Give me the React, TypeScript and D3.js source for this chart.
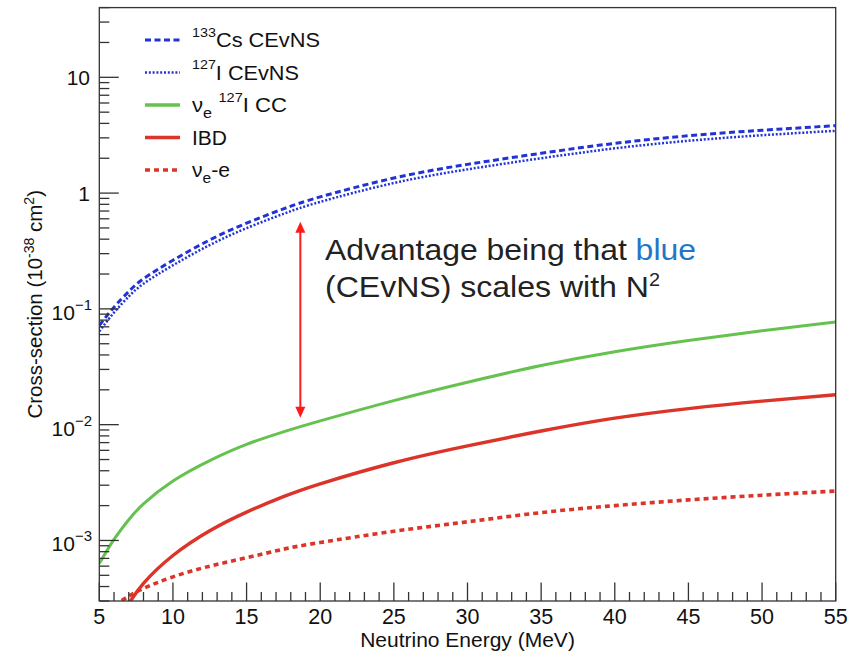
import React from 'react';
import * as d3 from 'd3';

// Neutrino energy grid (MeV)
const energy = [5, 6, 7, 8, 10, 12.5, 15, 17.5, 20, 25, 30, 35, 40, 45, 50, 55];
// Cross-sections in units of 1e-38 cm^2
const csCevns = [0.0719, 0.1035, 0.1413, 0.182, 0.263, 0.3936, 0.55, 0.731, 0.927, 1.349, 1.77, 2.208, 2.69, 3.126, 3.49, 3.82];
const iCevns = [0.064, 0.093, 0.128, 0.165, 0.238, 0.356, 0.498, 0.662, 0.84, 1.222, 1.603, 2.0, 2.435, 2.83, 3.16, 3.45];
const iCC = [6.31e-4, 1.02e-3, 1.51e-3, 2.07e-3, 3.26e-3, 4.9e-3, 6.76e-3, 8.67e-3, 0.01078, 0.01614, 0.02325, 0.0324, 0.04266, 0.05333, 0.06486, 0.0771];

const ibdEnergy = [7, 8, 10, 12.5, 15, 17.5, 20, 25, 30, 35, 40, 45, 50, 55];
const ibd = [2.83e-4, 4.26e-4, 7.41e-4, 1.213e-3, 1.758e-3, 2.388e-3, 3.083e-3, 4.69e-3, 6.56e-3, 8.81e-3, 0.01138, 0.01377, 0.01597, 0.01811];

const nueEnergy = [6, 7, 8, 10, 12.5, 15, 17.5, 20, 25, 30, 35, 40, 45, 50, 55];
const nueE = [2.75e-4, 3.3e-4, 3.85e-4, 4.85e-4, 6.0e-4, 7.1e-4, 8.4e-4, 9.6e-4, 1.2e-3, 1.45e-3, 1.74e-3, 2.0e-3, 2.24e-3, 2.46e-3, 2.67e-3];

// Axis settings
const xDomain = [5, 55];
const yDomain = [3e-4, 40];
const xMajorTicks = [5, 10, 15, 20, 25, 30, 35, 40, 45, 50, 55];
const yMajorTicks = [1e-3, 1e-2, 1e-1, 1, 10];
const yTickLabels: [string, string][] = [['10', '\u22123'], ['10', '\u22122'], ['10', '\u22121'], ['1', ''], ['10', '']];

// Double-headed arrow between the CEvNS and CC curves
const arrowEnergy = 18.65;
const arrowRange = [0.0115, 0.565];

const FONT = "'Liberation Sans', Arial, Helvetica, sans-serif";
const AXIS = '#333';
const BLUE = '#2233d6';
const GREEN = '#66c24e';
const RED = '#dc3428';

export default function App() {
  const x = d3.scaleLinear().domain(xDomain).range([99.3, 835.7]);
  const y = d3.scaleLog().domain(yDomain).range([601, 7.6]);
  const [x0, x1] = x.range();
  const [yb, yt] = y.range();

  const line = d3
    .line<[number, number]>()
    .x((d) => x(d[0]))
    .y((d) => y(d[1]))
    .curve(d3.curveNatural);

  const zip = (es: number[], vs: number[]) => es.map((e, i) => [e, vs[i]] as [number, number]);

  const series = [
    { data: zip(energy, csCevns), color: BLUE, width: 3, dash: '6,3.5' },
    { data: zip(energy, iCevns), color: BLUE, width: 2.5, dash: '2,1.8' },
    { data: zip(energy, iCC), color: GREEN, width: 3, dash: undefined },
    { data: zip(ibdEnergy, ibd), color: RED, width: 3.4, dash: undefined },
    { data: zip(nueEnergy, nueE), color: RED, width: 3.6, dash: '5,4' },
  ];

  const xMinor = d3.range(5, 56, 1).filter((v) => v % 5 !== 0);
  const yMinor: number[] = [];
  for (let p = -4; p <= 1; p++) {
    for (let k = 2; k <= 9; k++) {
      const v = k * Math.pow(10, p);
      if (v >= yDomain[0] * 0.999 && v <= yDomain[1] * 1.001) yMinor.push(v);
    }
  }

  const legendX0 = 145;
  const legendX1 = 180;
  const legendTextX = 192;
  const legendRows = [40, 72.5, 105, 137.5, 170];
  const legendLines = [
    { color: BLUE, width: 3, dash: '6,3.5' },
    { color: BLUE, width: 2.5, dash: '2,1.8' },
    { color: GREEN, width: 3.5, dash: undefined },
    { color: RED, width: 3.5, dash: undefined },
    { color: RED, width: 3.6, dash: '5,4' },
  ];

  const ax = x(arrowEnergy);
  const ayTop = y(arrowRange[1]);
  const ayBot = y(arrowRange[0]);

  return (
    <svg
      width={857}
      height={655}
      style={{ position: 'absolute', left: 0, top: 0, background: '#fff' }}
      fontFamily={FONT}
    >
      <defs>
        <clipPath id="plot-area">
          <rect x={x0} y={yt} width={x1 - x0} height={yb - yt} />
        </clipPath>
      </defs>
      <rect x={0} y={0} width={857} height={655} fill="#fff" />

      {/* curves */}
      <g clipPath="url(#plot-area)" fill="none">
        {series.map((s, i) => (
          <path
            key={i}
            d={line(s.data) || ''}
            stroke={s.color}
            strokeWidth={s.width}
            strokeDasharray={s.dash}
          />
        ))}
      </g>

      {/* frame */}
      <rect x={x0} y={yt} width={x1 - x0} height={yb - yt} fill="none" stroke={AXIS} strokeWidth={1.3} />

      {/* ticks */}
      <g stroke={AXIS} strokeWidth={1.3}>
        {xMajorTicks.map((t) => (
          <line key={'xM' + t} x1={x(t)} x2={x(t)} y1={yb} y2={yb - 18.5} />
        ))}
        {xMinor.map((t) => (
          <line key={'xm' + t} x1={x(t)} x2={x(t)} y1={yb} y2={yb - 9} />
        ))}
        {yMajorTicks.map((t) => (
          <line key={'yM' + t} x1={x0} x2={x0 + 19.5} y1={y(t)} y2={y(t)} />
        ))}
        {yMinor.map((t) => (
          <line key={'ym' + t} x1={x0} x2={x0 + 10} y1={y(t)} y2={y(t)} />
        ))}
      </g>

      {/* x tick labels */}
      <g fontSize={21.5} fill="#111" textAnchor="middle">
        {xMajorTicks.map((t) => (
          <text key={'xl' + t} x={x(t)} y={623.5}>
            {t}
          </text>
        ))}
      </g>

      {/* y tick labels */}
      <g fontSize={21} fill="#111" textAnchor="end">
        {yMajorTicks.map((t, i) => {
          const [base, exp] = yTickLabels[i];
          return exp ? (
            <text key={'yl' + t} x={92} y={y(t) + 11}>
              {base}
              <tspan fontSize={15} dy={-10}>
                {exp}
              </tspan>
            </text>
          ) : (
            <text key={'yl' + t} x={90} y={y(t) + 7.5}>
              {base}
            </text>
          );
        })}
      </g>

      {/* axis titles */}
      <text x={(x0 + x1) / 2} y={647} fontSize={21} textAnchor="middle" fill="#111">
        Neutrino Energy (MeV)
      </text>
      <text transform={`translate(42,${(yb + yt) / 2}) rotate(-90)`} fontSize={20.5} textAnchor="middle" fill="#111">
        Cross-section (10
        <tspan fontSize={14} dy={-8}>
          -38
        </tspan>
        <tspan dy={8}> cm</tspan>
        <tspan fontSize={14} dy={-8}>
          2
        </tspan>
        <tspan dy={8}>)</tspan>
      </text>

      {/* legend */}
      <g>
        {legendLines.map((l, i) => (
          <line
            key={'lg' + i}
            x1={legendX0}
            x2={legendX1}
            y1={legendRows[i]}
            y2={legendRows[i]}
            stroke={l.color}
            strokeWidth={l.width}
            strokeDasharray={l.dash}
          />
        ))}
      </g>
      <g fontSize={20.5} fill="#111">
        <text x={legendTextX} y={legendRows[0] + 7} textLength={128} lengthAdjust="spacingAndGlyphs">
          <tspan fontSize={13.5} dy={-10.5}>133</tspan>
          <tspan dy={10.5}>Cs CEvNS</tspan>
        </text>
        <text x={legendTextX} y={legendRows[1] + 7} textLength={107} lengthAdjust="spacingAndGlyphs">
          <tspan fontSize={13.5} dy={-10.5}>127</tspan>
          <tspan dy={10.5}>I CEvNS</tspan>
        </text>
        <text x={legendTextX} y={legendRows[2] + 7} textLength={95} lengthAdjust="spacingAndGlyphs">
          {'\u03bd'}
          <tspan fontSize={15} dy={6}>e</tspan>
          <tspan fontSize={13.5} dx={6} dy={-16.5}>127</tspan>
          <tspan dy={10.5}>I CC</tspan>
        </text>
        <text x={legendTextX} y={legendRows[3] + 7} textLength={35} lengthAdjust="spacingAndGlyphs">
          IBD
        </text>
        <text x={legendTextX} y={legendRows[4] + 7} textLength={38} lengthAdjust="spacingAndGlyphs">
          {'\u03bd'}
          <tspan fontSize={15} dy={6}>e</tspan>
          <tspan dy={-6}>-e</tspan>
        </text>
      </g>

      {/* annotation arrow */}
      <g stroke="#ff1a1a" fill="#ff1a1a">
        <line x1={ax} x2={ax} y1={ayTop + 8} y2={ayBot - 8} strokeWidth={2} />
        <polygon points={`${ax},${ayTop} ${ax - 5},${ayTop + 11} ${ax + 5},${ayTop + 11}`} stroke="none" />
        <polygon points={`${ax},${ayBot} ${ax - 5},${ayBot - 11} ${ax + 5},${ayBot - 11}`} stroke="none" />
      </g>

      {/* annotation text */}
      <g fontSize={29} fill="#222">
        <text x={325} y={260} textLength={371} lengthAdjust="spacingAndGlyphs">
          Advantage being that <tspan fill="#1f77c9">blue</tspan>
        </text>
        <text x={325} y={296.5} textLength={335} lengthAdjust="spacingAndGlyphs">
          (CEvNS) scales with N
          <tspan fontSize={18} dy={-11}>
            2
          </tspan>
        </text>
      </g>
    </svg>
  );
}
